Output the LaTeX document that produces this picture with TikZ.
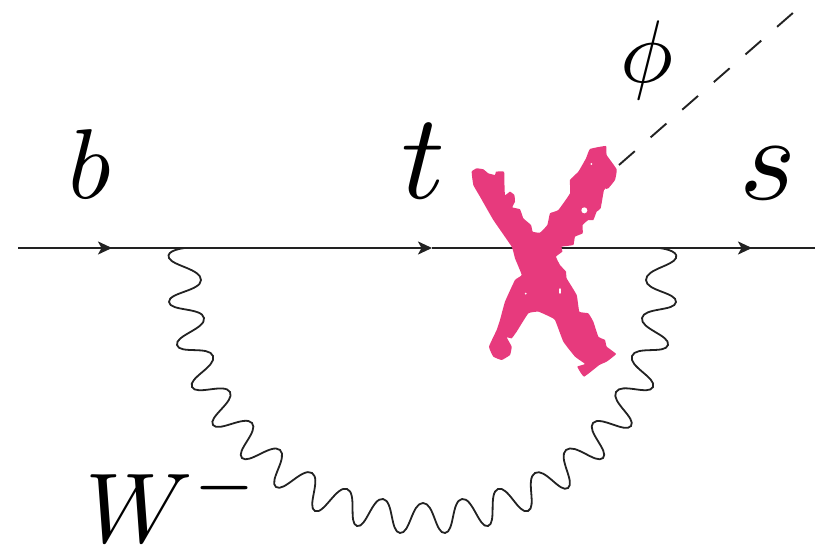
\documentclass[tikz,border=0pt]{standalone}
\usepackage{amsmath}
\usetikzlibrary{calc,arrows.meta}
\definecolor{xpink}{RGB}{231,58,125}
\definecolor{lineblk}{RGB}{34,34,34}
\tikzstyle{lbl}=[inner sep=0, anchor=base]
\tikzstyle{fline}=[line width=0.04cm, draw=lineblk]
\tikzstyle{ftip}=[-{Stealth[length=0.28cm,width=0.26cm,inset=0.07cm]}]
\tikzstyle{wline}=[line width=0.036cm, draw=lineblk]
\tikzstyle{hline}=[line width=0.038cm, draw=lineblk, dash pattern=on 0.42cm off 0.42cm]
\begin{document}
\begin{tikzpicture}[x=0.02cm,y=-0.02cm]
\useasboundingbox (0,0) rectangle (815,547);
\coordinate (pin) at (18,248);
\coordinate (a1) at (112,248);
\coordinate (vl) at (185,248);
\coordinate (a2) at (432,248);
\coordinate (vr) at (659,248);
\coordinate (a3) at (752,248);
\coordinate (pout) at (815,248);
\coordinate (hs) at (619,165);
\coordinate (he) at (794,12);
\draw[fline,ftip] (pin)--(a1);
\draw[fline,ftip] (pin)--(a2);
\draw[fline,ftip] (a2)--(a3);
\draw[fline] (a2)--(pout);
\draw[wline] plot[smooth, tension=0.9] coordinates {(vl)(169,258)(201,280)(169,302)(204,318)(177,345)(213,356)(192,387)(230,392)(213,425)(252,423)(242,458)(280,450)(276,487)(312,473)(315,511)(347,489)(357,526)(383,499)(400,533)(423,503)(445,533)(462,499)(488,526)(498,489)(528,511)(535,473)(568,488)(566,450)(603,458)(593,423)(631,426)(616,392)(653,387)(632,356)(668,345)(642,318)(676,302)(646,280)(676,258)(vr)};
\draw[hline] (hs)--(he);
\node[lbl, scale=5.65] (lb) at (90,199) {$b$};
\node[lbl, scale=6.9] (lt) at (423,199) {$t$};
\node[lbl, scale=6.9] (ls) at (768,200) {$s$};
\node[lbl, scale=5.06] (lphi) at (647,83) {$\phi$};
\node[lbl, scale=5.65, anchor=base west] (lw) at (84,542) {$W^-$};
% the cross, traced
\begin{scope}[shift={(460,130)},x=0.00667cm,y=-0.00667cm]
\fill[xpink] plot[smooth cycle, tension=0.2] coordinates {(35,125)(50,115)(70,118)(85,130)(105,135)(108,125)(132,125)(133,150)(135,195)(150,185)(163,195)(165,215)(157,232)(180,238)(190,265)(213,285)(218,305)(240,308)(262,285)(270,250)(295,240)(330,190)(330,150)(355,125)(378,85)(390,57)(438,48)(440,75)(470,118)(465,150)(445,175)(432,180)(422,235)(410,245)(400,270)(385,270)(368,285)(368,310)(345,320)(340,345)(305,350)(307,365)(288,380)(300,405)(318,425)(320,445)(350,495)(358,545)(385,550)(400,575)(415,620)(435,630)(440,650)(468,672)(440,695)(418,705)(372,740)(352,710)(375,702)(345,680)(310,635)(285,570)(265,558)(235,545)(205,550)(170,605)(155,625)(140,622)(155,650)(150,675)(125,690)(100,680)(87,650)(110,600)(120,570)(135,515)(165,450)(185,435)(165,385)(155,350)(100,270)(60,200)(40,165)};
\fill[white] (373,241) circle (9);
\fill[white] (394,102) circle (3);
\fill[white] (197,491) circle (3);
\fill[white] (300,483) ellipse (3 and 9);
\fill[white] (437,187) ellipse (3 and 12);
\end{scope}
\end{tikzpicture}
\end{document}
